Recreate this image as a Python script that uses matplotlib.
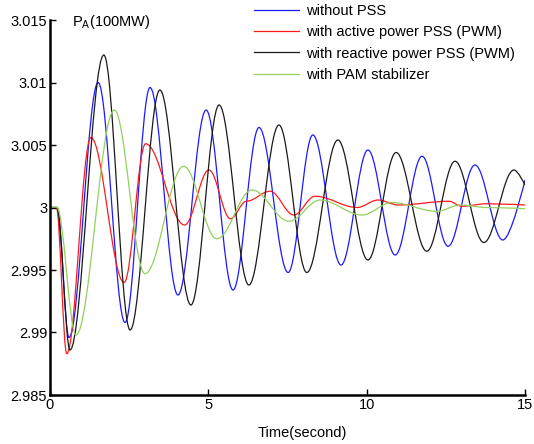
import matplotlib
matplotlib.use("Agg")
import matplotlib.pyplot as plt
from matplotlib.path import Path
from matplotlib.patches import PathPatch
from matplotlib.lines import Line2D

plt.rcParams["font.family"] = ["Liberation Sans", "DejaVu Sans"]
plt.rcParams["mathtext.fontset"] = "custom"
plt.rcParams["mathtext.rm"] = "Liberation Sans"

# turning points (time in s, P_A in 100 MW)
t_blue = [0, 0.22, 0.6, 1.52, 2.37, 3.16, 4.04, 4.93, 5.78, 6.6, 7.52, 8.3,
          9.19, 10.04, 10.9, 11.75, 12.57, 13.42, 14.3, 15.0]
p_blue = [3.0, 3.0, 2.9896, 3.0100, 2.9908, 3.0096, 2.9930, 3.0078, 2.9934,
          3.0064, 2.9948, 3.0058, 2.9954, 3.0046, 2.9962, 3.0041, 2.9969,
          3.0034, 2.9974, 3.0022]

t_red = [0, 0.2, 0.53, 1.29, 2.34, 3.02, 4.25, 5.02, 5.7, 6.2, 6.95, 7.7,
         8.37, 9.7, 10.36, 11.0, 12.6, 13.0, 13.8, 15.0]
p_red = [3.0, 3.0, 2.9883, 3.0056, 2.9940, 3.0051, 2.9986, 3.0030, 2.9991,
         3.0005, 3.0013, 2.9994, 3.0009, 3.0000, 3.0006, 3.0002, 3.0005,
         3.0001, 3.0003, 3.0002]

t_black = [0, 0.22, 0.63, 1.7, 2.53, 3.47, 4.45, 5.34, 6.28, 7.23, 8.11, 9.09,
           10.04, 10.93, 11.9, 12.79, 13.7, 14.65, 15.0]
p_black = [3.0, 3.0, 2.9886, 3.0122, 2.9902, 3.0094, 2.9922, 3.0082, 2.9938,
           3.0066, 2.9948, 3.0054, 2.9958, 3.0044, 2.9965, 3.0037, 2.9972,
           3.0030, 3.0018]

t_green = [0, 0.22, 0.82, 2.03, 3.0, 4.22, 5.27, 6.38, 7.55, 8.53, 9.85, 10.8,
           12.2, 12.98, 13.8, 15.0]
p_green = [3.0, 3.0, 2.9898, 3.0078, 2.9947, 3.0033, 2.9975, 3.0014, 2.9989,
           3.0006, 2.9994, 3.0004, 2.9997, 3.0002, 3.0000, 2.9999]

labels = ["without PSS", "with active power PSS (PWM)",
          "with reactive power PSS (PWM)", "with PAM stabilizer"]
colors = ["#1a1aff", "#ff1a1a", "#1a1a1a", "#93d05c"]

yticks = [2.985, 2.99, 2.995, 3.0, 3.005, 3.01, 3.015]
ytick_labels = ["2.985", "2.99", "2.995", "3", "3.005", "3.01", "3.015"]
xticks = [0, 5, 10, 15]


def smooth_path(ts, ps, k=0.36):
    # cubic Bezier between turning points, flat tangent at each one
    verts = [(ts[0], ps[0])]
    codes = [Path.MOVETO]
    n = len(ts)
    for i in range(n - 1):
        dt = ts[i + 1] - ts[i]
        c2 = (ts[i + 1] - k * dt, ps[i + 1])
        if i == n - 2:
            c2 = (ts[i + 1], ps[i + 1])
        verts += [(ts[i] + k * dt, ps[i]), c2, (ts[i + 1], ps[i + 1])]
        codes += [Path.CURVE4] * 3
    return Path(verts, codes)


fig = plt.figure(figsize=(5.34, 4.44), dpi=100)
ax = fig.add_axes([50 / 534, 1 - 395 / 444, 475 / 534, 375 / 444])

series = [(t_blue, p_blue), (t_red, p_red), (t_black, p_black), (t_green, p_green)]
for (ts, ps), c in zip(series, colors):
    ax.add_patch(PathPatch(smooth_path(ts, ps), fill=False, edgecolor=c, lw=0.9))

ax.set_xlim(0, 15)
ax.set_ylim(2.985, 3.015)
ax.set_xticks(xticks)
ax.set_xticklabels([str(x) for x in xticks])
ax.set_yticks(yticks)
ax.set_yticklabels(ytick_labels)
ax.tick_params(direction="in", length=4, width=1, labelsize=10.5, pad=2)
for s in ["top", "right"]:
    ax.spines[s].set_visible(False)
for s in ["left", "bottom"]:
    ax.spines[s].set_linewidth(1.8)

ax.set_xlabel("Time(second)", fontsize=10.5, labelpad=1)
ax.xaxis.set_label_coords((302 - 50) / 475, -0.083)
ax.text(72 / 534, 1 - 22 / 444, r"P$_\mathrm{A}$(100MW)", transform=fig.transFigure,
        fontsize=10.5, va="center", ha="left")

handles = [Line2D([], [], color=c, lw=0.9) for c in colors]
fig.legend(handles, labels, loc="upper left", bbox_to_anchor=(254 / 534, 1 - 4 / 444),
           frameon=False, fontsize=10.5, handlelength=3.1, handletextpad=0.5,
           labelspacing=0.5, borderpad=0, borderaxespad=0)

fig.savefig("out.png", dpi=100)
